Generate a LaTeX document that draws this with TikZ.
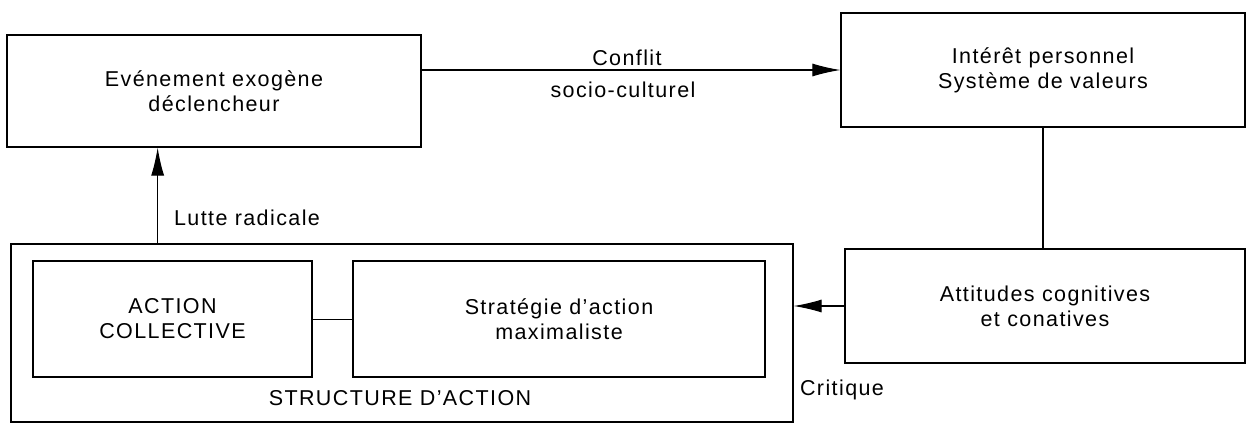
\documentclass[tikz,border=0pt]{standalone}
\usepackage{fontspec}
\setmainfont{Liberation Sans}[LetterSpace=6.5]
\usetikzlibrary{arrows.meta,calc}
\tikzset{
  box/.style={draw, line width=1.2pt, rectangle, align=center, inner sep=0pt,
    font=\fontsize{21.5}{25}\selectfont},
  lbl/.style={font=\fontsize{21.5}{25}\selectfont, inner sep=0pt},
  arr/.style={line width=1.1pt, -{Latex[length=28pt,width=13pt]}},
  link/.style={line width=0.8pt}
}
\begin{document}
\begin{tikzpicture}[x=1pt,y=-1pt]
\useasboundingbox (0,0) rectangle (1249,429);

% upper row
\node[box, minimum width=414pt, minimum height=112pt] (ev) at (214,91)
  {Evénement exogène\\déclencheur};
\node[box, minimum width=404pt, minimum height=114pt] (ig) at (1043,70)
  {Intérêt personnel\\Système de valeurs};

% lower right
\node[box, minimum width=400pt, minimum height=114pt] (att) at (1045,306)
  {Attitudes cognitives\\et conatives};

% action structure with its two parts
\node[box, minimum width=782pt, minimum height=178pt] (st) at (402,333) {};
\node[box, minimum width=279pt, minimum height=116pt] (ac) at (172.5,319)
  {ACTION\\COLLECTIVE};
\node[box, minimum width=412pt, minimum height=116pt] (sa) at (559,319)
  {Stratégie d'action\\maximaliste};
\node[lbl] (stl) at (400,398) {STRUCTURE D'ACTION};

% connectors
\draw[arr] (ev.east |- ig.west) -- (ig.west);
\node[lbl] (conf) at (627,58) {Conflit};
\node[lbl] (soc) at (623,90) {socio-culturel};

\draw[line width=2pt] (ig.south) -- (ig.south |- att.north);

\draw[arr] (att.west) -- (st.east |- att.west);
\node[lbl] (crit) at (842,390) {Critique};

\draw[link] (ac.east) -- (sa.west);

\coordinate (lr) at ($(st.north west)!0.188!(st.north east)$);
\draw[arr] (lr) -- (lr |- ev.south);
\node[lbl] (lut) at (247,218) {Lutte radicale};
\end{tikzpicture}
\end{document}
